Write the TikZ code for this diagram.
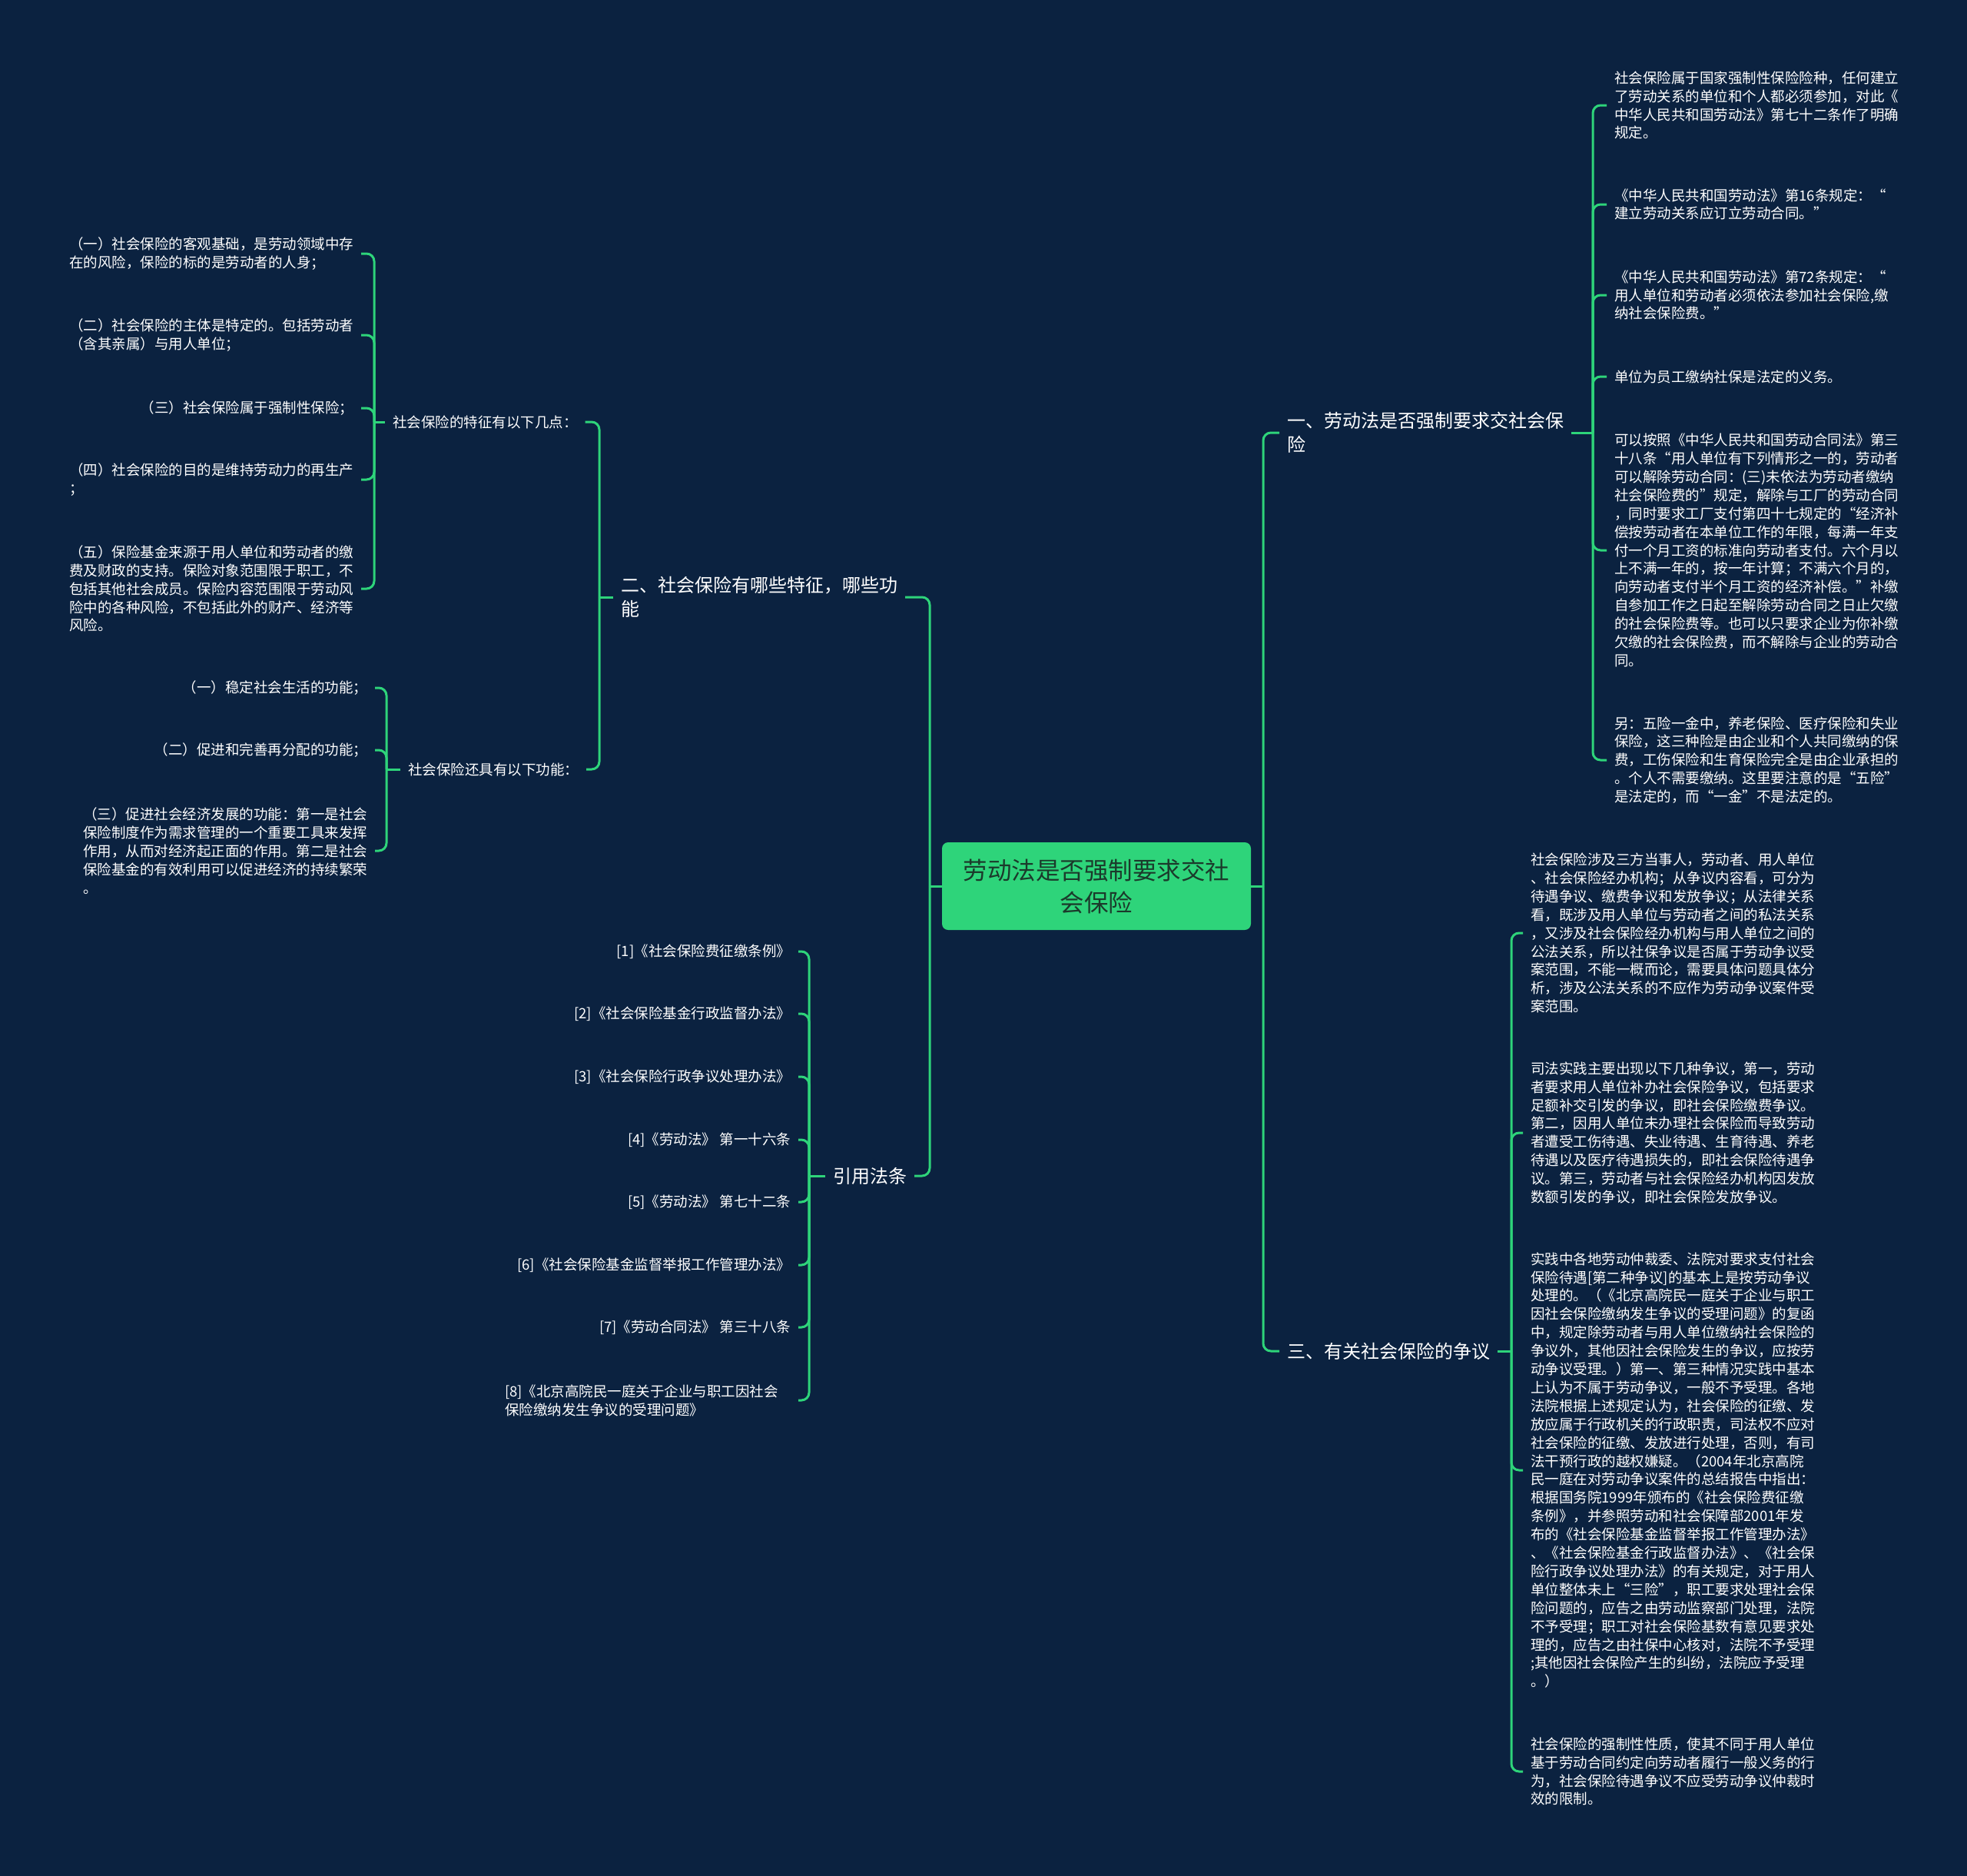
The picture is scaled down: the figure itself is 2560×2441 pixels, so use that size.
\documentclass[tikz,border=0pt]{standalone}
\usepackage{fontspec}
\setmainfont{Noto Sans CJK SC}
\definecolor{bg}{HTML}{0B2240}
\definecolor{lg}{HTML}{2ED47A}
\definecolor{ctext}{HTML}{1B3A2B}
\begin{document}
\begin{tikzpicture}[x=1pt,y=-1pt,
 conn/.style={draw=lg,line width=3pt,rounded corners=10pt},
 leaf/.style={font=\fontsize{18.5}{23.9}\selectfont,text=white,inner xsep=10pt,inner ysep=2pt,align=left,outer sep=0pt},
 branch/.style={font=\fontsize{24}{31}\selectfont,text=white,inner xsep=10pt,inner ysep=2pt,align=left,outer sep=0pt}]
\fill[bg] (0,0) rectangle (2560,2441);
\useasboundingbox (0,0) rectangle (2560,2441);

% center
\node[fill=lg,rounded corners=8pt,minimum width=402pt,minimum height=114pt,align=center,text=ctext,font=\fontsize{31.5}{42}\selectfont,inner sep=0pt] (C) at (1427,1153) {劳动法是否强制要求交社\\会保险};
\coordinate (JR) at (1644,1153);
\coordinate (JL) at (1210,1153);

% main branches
\node[branch,anchor=west] (B1) at (1665,563) {一、劳动法是否强制要求交社会保\\险};
\node[branch,anchor=west] (B3) at (1665,1758) {三、有关社会保险的争议};
\node[branch,anchor=west] (B2) at (798,777) {二、社会保险有哪些特征，哪些功\\能};
\node[branch,anchor=west] (BY) at (1074,1530) {引用法条};

\draw[conn] (C.east) -- (JR);
\draw[conn] (JR) |- (B1.west);
\draw[conn] (JR) |- (B3.west);
\draw[conn] (C.west) -- (JL);
\draw[conn] (JL) |- (B2.east);
\draw[conn] (JL) |- (BY.east);

% branch 1 children
\coordinate (J1) at (2073,563);
\draw[conn] (B1.east) -- (J1);
\node[leaf,anchor=west] (R1a) at (2091,137) {社会保险属于国家强制性保险险种，任何建立\\了劳动关系的单位和个人都必须参加，对此《\\中华人民共和国劳动法》第七十二条作了明确\\规定。};
\node[leaf,anchor=west] (R1b) at (2091,266) {《中华人民共和国劳动法》第16条规定：“\\建立劳动关系应订立劳动合同。”};
\node[leaf,anchor=west] (R1c) at (2091,384) {《中华人民共和国劳动法》第72条规定：“\\用人单位和劳动者必须依法参加社会保险,缴\\纳社会保险费。”};
\node[leaf,anchor=west] (R1d) at (2091,490) {单位为员工缴纳社保是法定的义务。};
\node[leaf,anchor=west] (R1e) at (2091,716) {可以按照《中华人民共和国劳动合同法》第三\\十八条“用人单位有下列情形之一的，劳动者\\可以解除劳动合同：(三)未依法为劳动者缴纳\\社会保险费的”规定，解除与工厂的劳动合同\\，同时要求工厂支付第四十七规定的“经济补\\偿按劳动者在本单位工作的年限，每满一年支\\付一个月工资的标准向劳动者支付。六个月以\\上不满一年的，按一年计算；不满六个月的，\\向劳动者支付半个月工资的经济补偿。”补缴\\自参加工作之日起至解除劳动合同之日止欠缴\\的社会保险费等。也可以只要求企业为你补缴\\欠缴的社会保险费，而不解除与企业的劳动合\\同。};
\node[leaf,anchor=west] (R1f) at (2091,989) {另：五险一金中，养老保险、医疗保险和失业\\保险，这三种险是由企业和个人共同缴纳的保\\费，工伤保险和生育保险完全是由企业承担的\\。个人不需要缴纳。这里要注意的是“五险”\\是法定的，而“一金”不是法定的。};
\foreach \n in {R1a,R1b,R1c,R1d,R1e,R1f} \draw[conn] (J1) |- (\n.west);

% branch 3 children
\coordinate (J3) at (1967,1758);
\draw[conn] (B3.east) -- (J3);
\node[leaf,anchor=west] (R3a) at (1982,1214) {社会保险涉及三方当事人，劳动者、用人单位\\、社会保险经办机构；从争议内容看，可分为\\待遇争议、缴费争议和发放争议；从法律关系\\看，既涉及用人单位与劳动者之间的私法关系\\，又涉及社会保险经办机构与用人单位之间的\\公法关系，所以社保争议是否属于劳动争议受\\案范围，不能一概而论，需要具体问题具体分\\析，涉及公法关系的不应作为劳动争议案件受\\案范围。};
\node[leaf,anchor=west] (R3b) at (1982,1474) {司法实践主要出现以下几种争议，第一，劳动\\者要求用人单位补办社会保险争议，包括要求\\足额补交引发的争议，即社会保险缴费争议。\\第二，因用人单位未办理社会保险而导致劳动\\者遭受工伤待遇、失业待遇、生育待遇、养老\\待遇以及医疗待遇损失的，即社会保险待遇争\\议。第三，劳动者与社会保险经办机构因发放\\数额引发的争议，即社会保险发放争议。};
\node[leaf,anchor=west] (R3c) at (1982,1913) {实践中各地劳动仲裁委、法院对要求支付社会\\保险待遇[第二种争议]的基本上是按劳动争议\\处理的。（《北京高院民一庭关于企业与职工\\因社会保险缴纳发生争议的受理问题》的复函\\中，规定除劳动者与用人单位缴纳社会保险的\\争议外，其他因社会保险发生的争议，应按劳\\动争议受理。）第一、第三种情况实践中基本\\上认为不属于劳动争议，一般不予受理。各地\\法院根据上述规定认为，社会保险的征缴、发\\放应属于行政机关的行政职责，司法权不应对\\社会保险的征缴、发放进行处理，否则，有司\\法干预行政的越权嫌疑。（2004年北京高院\\民一庭在对劳动争议案件的总结报告中指出：\\根据国务院1999年颁布的《社会保险费征缴\\条例》，并参照劳动和社会保障部2001年发\\布的《社会保险基金监督举报工作管理办法》\\、《社会保险基金行政监督办法》、《社会保\\险行政争议处理办法》的有关规定，对于用人\\单位整体未上“三险”，职工要求处理社会保\\险问题的，应告之由劳动监察部门处理，法院\\不予受理；职工对社会保险基数有意见要求处\\理的，应告之由社保中心核对，法院不予受理\\;其他因社会保险产生的纠纷，法院应予受理\\。）};
\node[leaf,anchor=west] (R3d) at (1982,2305) {社会保险的强制性性质，使其不同于用人单位\\基于劳动合同约定向劳动者履行一般义务的行\\为，社会保险待遇争议不应受劳动争议仲裁时\\效的限制。};
\foreach \n in {R3a,R3b,R3c,R3d} \draw[conn] (J3) |- (\n.west);

% branch 2
\coordinate (J2) at (780,777);
\draw[conn] (B2.west) -- (J2);
\node[leaf,anchor=west] (T1) at (501,549) {社会保险的特征有以下几点：};
\node[leaf,anchor=west] (T2) at (521,1001) {社会保险还具有以下功能：};
\draw[conn] (J2) |- (T1.east);
\draw[conn] (J2) |- (T2.east);

\coordinate (J4) at (487,549);
\draw[conn] (T1.west) -- (J4);
\node[leaf,anchor=east] (L1) at (470,330) {（一）社会保险的客观基础，是劳动领域中存\\在的风险，保险的标的是劳动者的人身；};
\node[leaf,anchor=east] (L2) at (470,436) {（二）社会保险的主体是特定的。包括劳动者\\（含其亲属）与用人单位；};
\node[leaf,anchor=east] (L3) at (470,531) {（三）社会保险属于强制性保险；};
\node[leaf,anchor=east] (L4) at (470,624) {（四）社会保险的目的是维持劳动力的再生产\\；};
\node[leaf,anchor=east] (L5) at (470,766) {（五）保险基金来源于用人单位和劳动者的缴\\费及财政的支持。保险对象范围限于职工，不\\包括其他社会成员。保险内容范围限于劳动风\\险中的各种风险，不包括此外的财产、经济等\\风险。};
\foreach \n in {L1,L2,L3,L4,L5} \draw[conn] (J4) |- (\n.east);

\coordinate (J5) at (503,1001);
\draw[conn] (T2.west) -- (J5);
\node[leaf,anchor=east] (M1) at (488,895) {（一）稳定社会生活的功能；};
\node[leaf,anchor=east] (M2) at (488,976) {（二）促进和完善再分配的功能；};
\node[leaf,anchor=east] (M3) at (488,1107) {（三）促进社会经济发展的功能：第一是社会\\保险制度作为需求管理的一个重要工具来发挥\\作用，从而对经济起正面的作用。第二是社会\\保险基金的有效利用可以促进经济的持续繁荣\\。};
\foreach \n in {M1,M2,M3} \draw[conn] (J5) |- (\n.east);

% references
\coordinate (J6) at (1053,1530);
\draw[conn] (BY.west) -- (J6);
\node[leaf,anchor=east] (Y1) at (1039,1238) {[1]《社会保险费征缴条例》};
\node[leaf,anchor=east] (Y2) at (1039,1319) {[2]《社会保险基金行政监督办法》};
\node[leaf,anchor=east] (Y3) at (1039,1401) {[3]《社会保险行政争议处理办法》};
\node[leaf,anchor=east] (Y4) at (1039,1483) {[4]《劳动法》 第一十六条};
\node[leaf,anchor=east] (Y5) at (1039,1564) {[5]《劳动法》 第七十二条};
\node[leaf,anchor=east] (Y6) at (1039,1646) {[6]《社会保险基金监督举报工作管理办法》};
\node[leaf,anchor=east] (Y7) at (1039,1727) {[7]《劳动合同法》 第三十八条};
\node[leaf,anchor=east,text width=372pt] (Y8) at (1039,1822) {[8]《北京高院民一庭关于企业与职工因社会\\保险缴纳发生争议的受理问题》};
\foreach \n in {Y1,Y2,Y3,Y4,Y5,Y6,Y7,Y8} \draw[conn] (J6) |- (\n.east);
\end{tikzpicture}
\end{document}
